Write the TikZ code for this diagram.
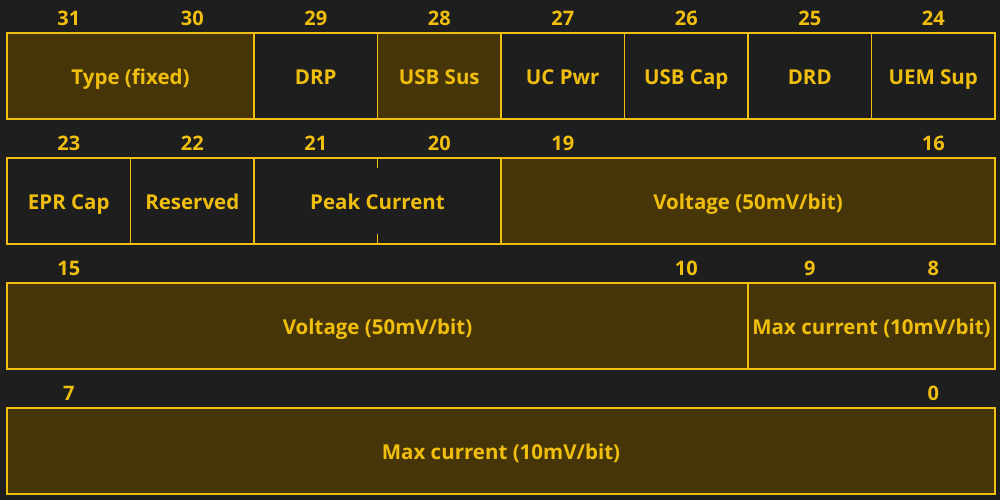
\documentclass[tikz,border=0pt]{standalone}
\usepackage{fontspec}
\setsansfont{Open Sans}
\usetikzlibrary{calc}
\usetikzlibrary{positioning}
\usetikzlibrary{chains}
\definecolor{bgdark}{HTML}{1E1E1E}
\definecolor{gold}{HTML}{F0BE0F}
\definecolor{goldfill}{HTML}{463508}
\tikzset{every picture/.style={/utils/exec={\sffamily\bfseries}}}
\tikzset{
  field/.style={on chain, draw=gold, line width=1.6pt, text=gold, outer sep=0pt,
    inner xsep=0pt, minimum height=86pt, text height=17pt, text depth=0pt,
    font=\fontsize{20.5}{24}\selectfont},
  filled/.style={fill=goldfill},
  bitnum/.style={text=gold, font=\fontsize{20}{24}\selectfont}
}
\newcommand{\splitTick}[1]{
  \foreach \o/\d in {north/-10pt,south/10pt} {
  \draw[gold, line width=1.6pt] (#1.\o) -- ++(0pt,\d);
  }
}

\begin{document}
\begin{tikzpicture}[x=1pt, y=1pt, node distance=0pt]
  \fill[bgdark] (0,0) rectangle (1000,500);
  \useasboundingbox (0,0) rectangle (1000,500);

  % bits 31..24
  \begin{scope}[start chain=rowa going right]
    \node [field, filled, minimum width=247pt, anchor=west] (type) at (7,424) {Type (fixed)};
    \node [field, minimum width=123.5pt] (drp) {DRP};
    \node [field, filled, minimum width=123.5pt] (usbsus) {USB Sus};
    \node [field, minimum width=123.5pt] (ucpwr) {UC Pwr};
    \node [field, minimum width=123.5pt] (usbcap) {USB Cap};
    \node [field, minimum width=123.5pt] (drd) {DRD};
    \node [field, minimum width=123.5pt] (uemsup) {UEM Sup};
  \end{scope}

  % bits 23..16
  \begin{scope}[start chain=rowb going right]
    \node [field, minimum width=123.5pt, anchor=west] (eprcap) at (7,299) {EPR Cap};
    \node [field, minimum width=123.5pt] (reserved) {Reserved};
    \node [field, minimum width=247pt] (peak) {Peak Current};

    \splitTick{peak}

    \node [field, filled, minimum width=494pt] (volthi) {Voltage (50mV/bit)};
  \end{scope}

  % bits 15..8
  \begin{scope}[start chain=rowc going right]
    \node [field, filled, minimum width=741pt, anchor=west] (voltlo) at (7,174) {Voltage (50mV/bit)};
    \node [field, filled, minimum width=247pt] (maxhi) {Max current (10mV/bit)};
  \end{scope}

  % bits 7..0
  \begin{scope}[start chain=rowd going right]
    \node [field, filled, minimum width=988pt, anchor=west] (maxlo) at (7,49) {Max current (10mV/bit)};
  \end{scope}

  % bit numbers
  \foreach \b/\c/\y in {31/0/482,30/1/482,29/2/482,28/3/482,27/4/482,26/5/482,25/6/482,24/7/482,
                       23/0/357,22/1/357,21/2/357,20/3/357,19/4/357,16/7/357,
                       15/0/232,10/5/232,9/6/232,8/7/232,
                       7/0/107,0/7/107}
    \node [bitnum] (bit\b) at (68.75+123.5*\c,\y) {\b};
\end{tikzpicture}
\end{document}
